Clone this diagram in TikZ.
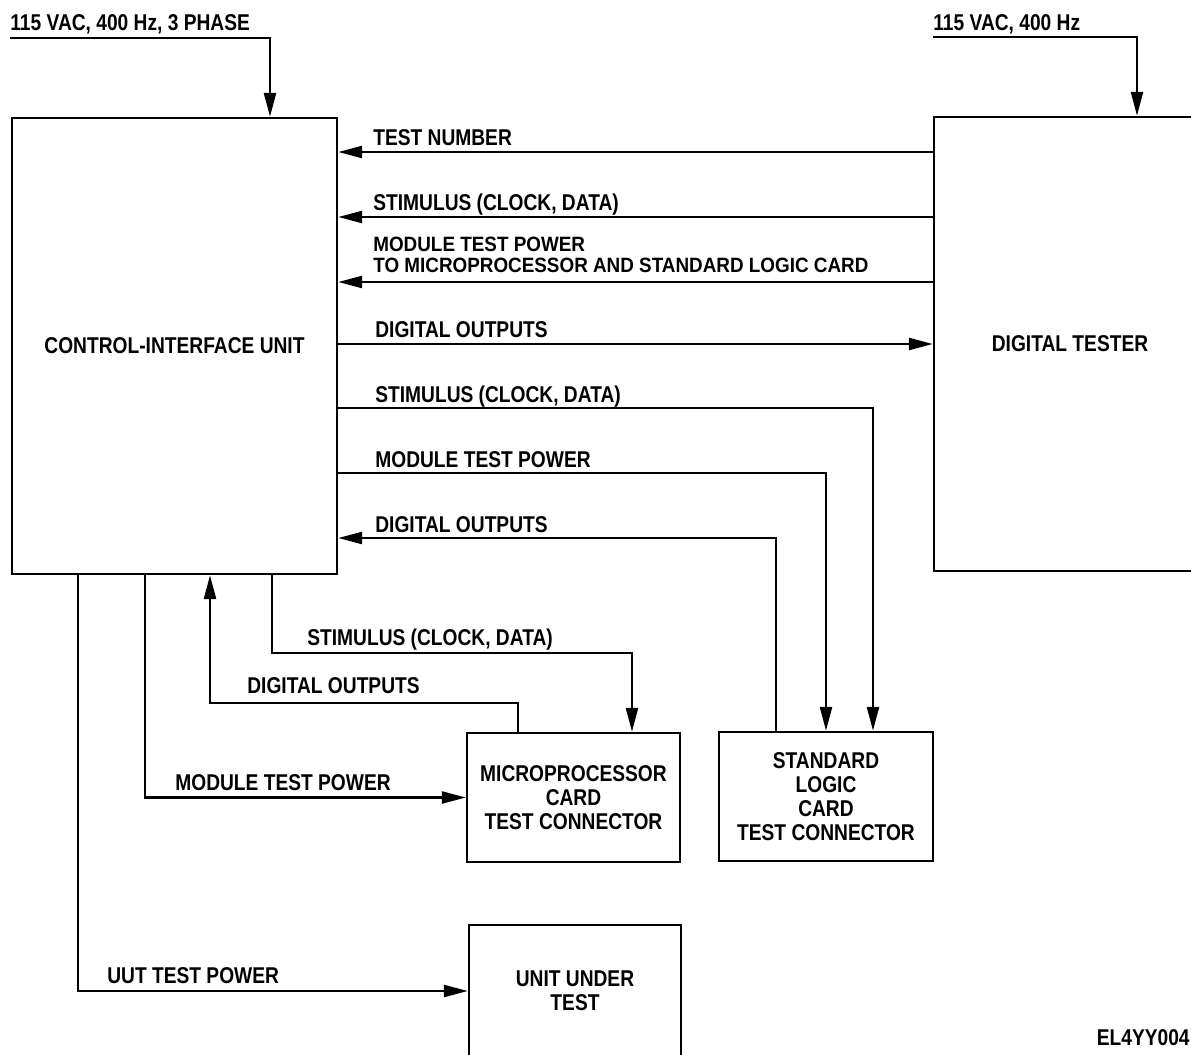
\documentclass[tikz,border=0pt]{standalone}
\usepackage{fontspec}
\setmainfont{Liberation Sans}[FakeStretch=0.84]
\newfontfamily\lblwide{Liberation Sans}[FakeStretch=0.91]
\usepackage{tikz}
\usetikzlibrary{positioning,arrows.meta}
\tikzset{
  blk/.style={draw=black,line width=1.4pt,align=center,inner sep=2pt,
              font=\fontsize{13}{13.6}\selectfont\bfseries},
  lbl/.style={inner sep=0pt,anchor=base west,font=\fontsize{13}{13.6}\selectfont\bfseries},
  lbltwo/.style={lbl,align=left,anchor=south west,font=\lblwide\fontsize{11.8}{11.8}\selectfont\bfseries},
  arr/.style={-{Triangle[length=4.8mm,width=2.4mm]},line width=1.4pt,draw=black}
}

\begin{document}
\begin{tikzpicture}[x=0.02cm,y=-0.02cm]
  \useasboundingbox (0,0) rectangle (1191,1055);

  \node[blk,minimum width=6.5cm,minimum height=9.12cm] (ciu) at (174.5,346) {CONTROL-INTERFACE UNIT};
  \node[blk,minimum width=5.44cm,minimum height=9.08cm] (dt) at (1070,344) {DIGITAL TESTER};
  \node[blk,minimum width=4.26cm,minimum height=2.58cm] (mp) at (573.5,797.5) {MICROPROCESSOR\\CARD\\TEST CONNECTOR};
  \node[blk,minimum width=4.28cm,minimum height=2.58cm] (slc) at (826,796.5) {STANDARD\\LOGIC\\CARD\\TEST CONNECTOR};
  \node[blk,minimum width=4.24cm,minimum height=2.64cm] (uut) at (575,991) {UNIT UNDER\\TEST};

  \coordinate (acl) at (10,38);
  \coordinate (acr) at (933,37);
  \node[lbl] (pwrl) at (10,30) {115 VAC, 400 Hz, 3 PHASE};
  \node[lbl] (pwrr) at (933,30) {115 VAC, 400 Hz};
  \draw[arr] (acl) -| (ciu.north -| 270,0);
  \draw[arr] (acr) -| (dt.north -| 1137,0);

  \node[lbl] (tnum) at (373,145) {TEST NUMBER};
  \node[lbl] (stdt) at (373,210) {STIMULUS (CLOCK, DATA)};
  \node[lbltwo] (mtpdt) at (373,273) {MODULE TEST POWER\\TO MICROPROCESSOR AND STANDARD LOGIC CARD};
  \node[lbl] (dodt) at (375,337) {DIGITAL OUTPUTS};
  \node[lbl] (stslc) at (375,402) {STIMULUS (CLOCK, DATA)};
  \node[lbl] (mtpslc) at (375,467) {MODULE TEST POWER};
  \node[lbl] (doslc) at (375,532) {DIGITAL OUTPUTS};
  \node[lbl] (stmp) at (307,645) {STIMULUS (CLOCK, DATA)};
  \node[lbl] (domp) at (247,693) {DIGITAL OUTPUTS};
  \node[lbl] (mtpmp) at (175,790) {MODULE TEST POWER};
  \node[lbl] (uutp) at (107,983) {UUT TEST POWER};
  \node[lbl,anchor=base east] (fig) at (1190,1045) {EL4YY004};

  \draw[arr] (dt.west |- 0,152) -- (ciu.east |- 0,152);
  \draw[arr] (dt.west |- 0,217) -- (ciu.east |- 0,217);
  \draw[arr] (dt.west |- 0,282) -- (ciu.east |- 0,282);
  \draw[arr] (ciu.east |- 0,344) -- (dt.west |- 0,344);
  \draw[arr] (ciu.east |- 0,408) -| ([xshift=9.4mm]slc.north);
  \draw[arr] (ciu.east |- 0,473) -| (slc.north);
  \draw[arr] ([xshift=-10mm]slc.north) |- (ciu.east |- 0,538);
  \draw[arr] (ciu.south -| 272,0) -- (272,653) -| ([xshift=11.7mm]mp.north);
  \draw[arr] ([xshift=-11.1mm]mp.north) |- (210,703) -- (ciu.south -| 210,0);
  \draw[arr] (ciu.south -| 145,0) |- (mp.west);
  \draw[arr] (ciu.south -| 78,0) |- (uut.west);
\end{tikzpicture}
\end{document}
